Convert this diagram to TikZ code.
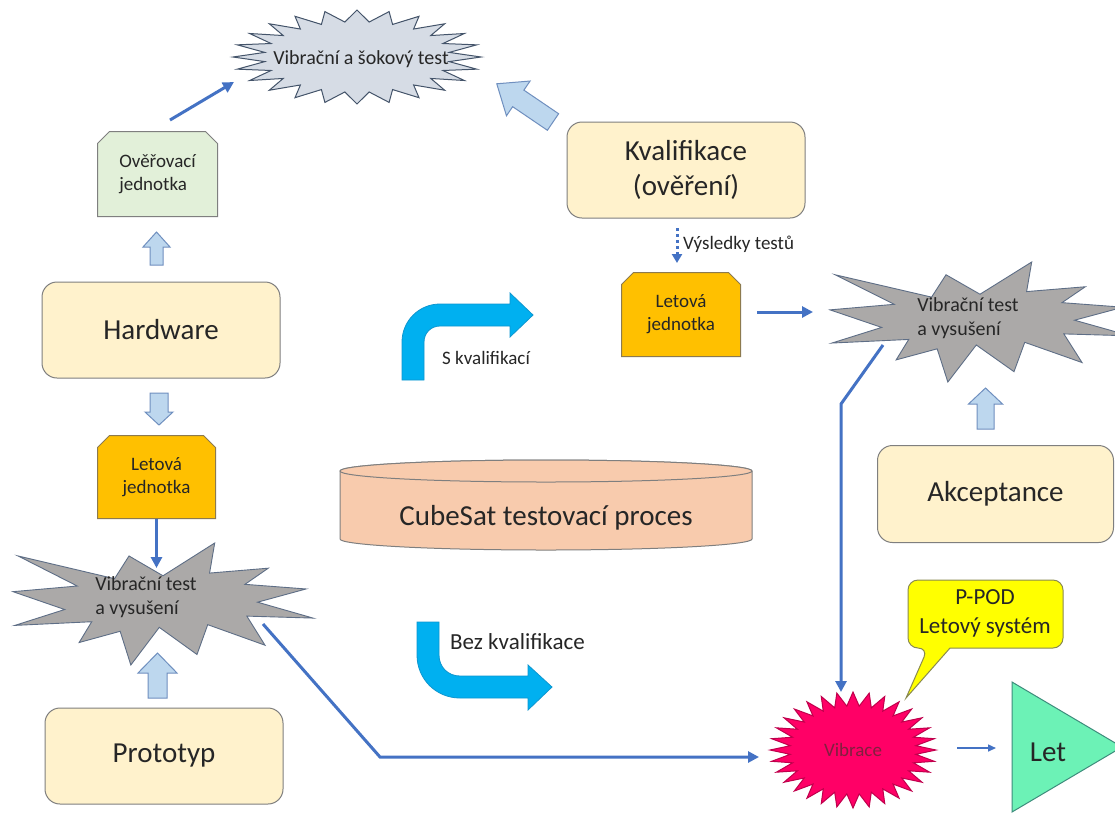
\documentclass[tikz,border=0pt]{standalone}
\usepackage{fontspec}
\setmainfont{Carlito}
\usetikzlibrary{arrows.meta}

\definecolor{boxfill}{HTML}{FFF2CC}
\definecolor{boxline}{HTML}{7F7F7F}
\definecolor{txt}{HTML}{262626}
\definecolor{verfill}{HTML}{E2F0D9}
\definecolor{flightfill}{HTML}{FFC000}
\definecolor{flightline}{HTML}{8C7A4F}
\definecolor{shockfill}{HTML}{D6DCE5}
\definecolor{shockline}{HTML}{44546A}
\definecolor{vibfill}{HTML}{ABA9A8}
\definecolor{vibline}{HTML}{5E6E86}
\definecolor{hollowfill}{HTML}{BDD7EE}
\definecolor{hollowline}{HTML}{6F8FBF}
\definecolor{flow}{HTML}{4472C4}
\definecolor{bentfill}{HTML}{00B0F0}
\definecolor{bentline}{HTML}{0E96CF}
\definecolor{cylfill}{HTML}{F8CBAD}
\definecolor{calloutfill}{HTML}{FFFF00}
\definecolor{calloutline}{HTML}{8A8A50}
\definecolor{pinkfill}{HTML}{FF0066}
\definecolor{pinkline}{HTML}{C0004C}
\definecolor{pinktext}{HTML}{80203F}
\definecolor{letfill}{HTML}{6CF2B6}
\definecolor{letline}{HTML}{3E8C7C}

\makeatletter
% rectangle with its two upper corners cut off
\def\snipsize{12pt}
\pgfdeclareshape{snipped rectangle}{%
  \inheritsavedanchors[from=rectangle]
  \inheritanchorborder[from=rectangle]
  \inheritanchor[from=rectangle]{center}
  \inheritanchor[from=rectangle]{north}
  \inheritanchor[from=rectangle]{south}
  \inheritanchor[from=rectangle]{east}
  \inheritanchor[from=rectangle]{west}
  \inheritanchor[from=rectangle]{north east}
  \inheritanchor[from=rectangle]{north west}
  \inheritanchor[from=rectangle]{south east}
  \inheritanchor[from=rectangle]{south west}
  \inheritanchor[from=rectangle]{base}
  \inheritanchor[from=rectangle]{mid}
  \backgroundpath{%
    \southwest \edef\sn@l{\the\pgf@x}\edef\sn@b{\the\pgf@y}%
    \northeast \edef\sn@r{\the\pgf@x}\edef\sn@t{\the\pgf@y}%
    \pgfpathmoveto{\pgfqpoint{\sn@l}{\sn@b}}%
    \pgfpathlineto{\pgfpointadd{\pgfqpoint{\sn@l}{\sn@t}}{\pgfqpoint{0pt}{-\snipsize}}}%
    \pgfpathlineto{\pgfpointadd{\pgfqpoint{\sn@l}{\sn@t}}{\pgfqpoint{\snipsize}{0pt}}}%
    \pgfpathlineto{\pgfpointadd{\pgfqpoint{\sn@r}{\sn@t}}{\pgfqpoint{-\snipsize}{0pt}}}%
    \pgfpathlineto{\pgfpointadd{\pgfqpoint{\sn@r}{\sn@t}}{\pgfqpoint{0pt}{-\snipsize}}}%
    \pgfpathlineto{\pgfqpoint{\sn@r}{\sn@b}}%
    \pgfpathclose
  }%
}
\makeatother

% regular seal on an ellipse: style, cx, cy, rx, ry, spikes, 2*spikes-1, inner ratio
\newcommand\sealstar[8]{%
  \draw[#1] ({#2},{#3-#5}) \foreach \k in {1,...,#7} { -- ({#2+(isodd(\k)?#8:1)*#4*cos(-90+\k*180/#6)},{#3+(isodd(\k)?#8:1)*#5*sin(-90+\k*180/#6)}) } -- cycle;}

% irregular explosion: style, left, top, width, height
\newcommand\explosion[5]{%
  \begin{scope}[shift={(#2,#3)},xscale=#4/100,yscale=#5/100]
    \draw[#1] (50,26.85) -- (67.23,0) -- (65.53,24.65) -- (85.09,20.63)
      -- (77.32,33.87) -- (97.67,37.67) -- (81.51,48.50) -- (100,61.53)
      -- (77.95,59.92) -- (84.00,83.77) -- (64.91,66.93) -- (61.33,91.38)
      -- (48.76,69.14) -- (39.28,100) -- (35.72,72.35) -- (22.05,81.56)
      -- (26.24,64.52) -- (0.63,67.53) -- (17.23,54.51) -- (0,39.88)
      -- (21.42,35.26) -- (1.71,10.63) -- (33.85,29.26) -- (38.67,10.63)
      -- cycle;
  \end{scope}}

% block arrow: style, tail point, angle, length, body half width, head half width, head length
\newcommand\blockarrow[7]{%
  \begin{scope}[shift={#2},rotate=#3]
    \draw[#1] (0,-#5) -- ({#4-#7},-#5) -- ({#4-#7},-#6) -- (#4,0)
      -- ({#4-#7},#6) -- ({#4-#7},#5) -- (0,#5) -- cycle;
  \end{scope}}

\begin{document}
\begin{tikzpicture}[x=1pt,y=-1pt,
  stage/.style={draw=boxline,line width=1pt,fill=boxfill,rounded corners=15pt,
    text=txt,font=\fontsize{29}{35}\selectfont,align=center,inner sep=0pt,
    minimum width=238pt,minimum height=96pt},
  unit/.style={shape=snipped rectangle,draw=boxline,line width=1pt,text=txt,
    font=\fontsize{19}{23}\selectfont,inner sep=0pt,
    minimum width=118pt,minimum height=83pt},
  lbl/.style={text=txt,inner sep=0pt,font=\fontsize{19}{23}\selectfont},
  startext/.style={text=txt,inner sep=0pt,font=\fontsize{20}{24}\selectfont,align=left},
  flowline/.style={draw=flow,line width=3pt,-{Triangle[length=11pt,width=11pt]}},
  hollow/.style={draw=hollowline,line width=1pt,fill=hollowfill},
  bent/.style={draw=bentline,line width=0.8pt,fill=bentfill},
  shockstar/.style={draw=shockline,line width=1pt,fill=shockfill},
  vibstar/.style={draw=vibline,line width=0.9pt,fill=vibfill},
  pinkstar/.style={draw=pinkline,line width=1pt,fill=pinkfill},
  cyl/.style={draw=boxline,line width=1pt,fill=cylfill},
  callout/.style={draw=calloutline,line width=1pt,fill=calloutfill},
  letshape/.style={draw=letline,line width=1pt,fill=letfill},
]
\useasboundingbox (0,0) rectangle (1115,812);
\fill[white] (0,0) rectangle (1115,812);
\clip (0,0) rectangle (1115,812);

% ---------- stages ----------
\node[stage] (hw) at (161,330) {Hardware};
\node[stage] (proto) at (164,756) {Prototyp};
\node[stage] (kval) at (686,170) {Kvalifikace\\(ověření)};
\node[stage,minimum width=236pt,minimum height=97pt] (acc) at (995.5,494) {Akceptance};

% ---------- units ----------
\node[unit,fill=verfill,align=left,minimum width=119pt,minimum height=84pt] (ver) at (157.5,174) {Ověřovací\\jednotka};
\node[unit,fill=flightfill,draw=flightline,align=center,minimum width=117pt,minimum height=82pt] (flL) at (156.5,477) {Letová\\jednotka};
\node[unit,fill=flightfill,draw=flightline,align=center] (flR) at (681,314.5) {Letová\\jednotka};

% ---------- test stars ----------
\sealstar{shockstar}{357}{57}{124}{47}{24}{47}{0.75}
\node[startext] (shock) at (361,59) {Vibrační a šokový test};

\explosion{vibstar}{13}{543}{300}{122}
\node[startext] (vibL) at (146,597) {Vibrační test\\a vysušení};

\explosion{vibstar}{830}{262}{300}{120}
\node[startext] (vibR) at (968,318) {Vibrační test\\a vysušení};

\sealstar{pinkstar}{853}{750}{83}{58}{32}{63}{0.76}
\node[lbl,text=pinktext] (vib) at (853,750) {Vibrace};

% ---------- process cylinder ----------
\draw[cyl] (340,471) -- (340,539) arc[start angle=180,end angle=360,x radius=206pt,y radius=11pt]
  -- (752,471) arc[start angle=0,end angle=180,x radius=206pt,y radius=11pt] -- cycle;
\draw[cyl] (546,471) ellipse[x radius=206pt,y radius=11pt];
\node[text=txt,inner sep=0pt,font=\fontsize{29}{35}\selectfont] (proc) at (546,518) {CubeSat testovací proces};

% ---------- callout and flight ----------
\draw[callout] (928,648) -- (906,698) -- (950,648) [rounded corners=10pt] -- (1063,648)
  -- (1063,580) -- (908,580) -- (908,648) -- cycle;
\node[lbl,font=\fontsize{23}{29}\selectfont,align=center] (ppod) at (985,613) {P-POD\\Letový systém};

\draw[letshape] (1012,682) -- (1122,747) -- (1012,812) -- cycle;
\node[lbl,font=\fontsize{29}{35}\selectfont] (let) at (1048,752) {Let};

% ---------- bent route arrows ----------
\filldraw[bent] (402,380) -- (402,342) .. controls (402,321) and (419,304) .. (440,304)
  -- (510,304) -- (510,293) -- (533,315) -- (510,337) -- (510,326) -- (440,326)
  .. controls (431,326) and (424,333) .. (424,342) -- (424,380) -- cycle;
\node[lbl,anchor=west] (withq) at (442,358) {S kvalifikací};

\filldraw[bent] (417,622) -- (417,655) .. controls (417,679) and (436,698) .. (460,698)
  -- (528,698) -- (528,710) -- (552,687) -- (528,665) -- (528,676) -- (460,676)
  .. controls (448,676) and (439,667) .. (439,655) -- (439,622) -- cycle;
\node[lbl,font=\fontsize{23}{28}\selectfont,anchor=west] (noq) at (450,642) {Bez kvalifikace};

% ---------- hollow block arrows ----------
\blockarrow{hollow}{(156.5,265)}{90}{33}{6.5}{13.5}{15}
\blockarrow{hollow}{(159,393)}{-90}{32}{9}{14}{13}
\blockarrow{hollow}{(157.5,698)}{90}{45}{9.5}{19.5}{20}
\blockarrow{hollow}{(985.5,429)}{90}{41}{8.5}{17}{16}
\blockarrow{hollow}{(553,122)}{145.8}{68}{10}{21}{26}

% ---------- flow connectors ----------
\coordinate (verOut) at (170,120);
\coordinate (shockIn) at (234,82);
\draw[flowline] (verOut) -- (shockIn);

\coordinate (vibLin) at (156.5,568);
\draw[flowline] (flL.south) -- (vibLin);

\coordinate (vibLout) at (263,624);
\coordinate (lowBend) at (380,757);
\coordinate (pinkW) at (759,757);
\draw[flowline] (vibLout) -- (lowBend) -- (pinkW);

\coordinate (flROut) at (757,312);
\coordinate (vibRin) at (813,312);
\draw[flowline] (flROut) -- (vibRin);

\coordinate (vibRout) at (883,345);
\coordinate (rightBend) at (841,404);
\coordinate (pinkN) at (841,692);
\draw[flowline] (vibRout) -- (rightBend) -- (pinkN);

\coordinate (resStart) at (677,228);
\coordinate (resEnd) at (677,263);
\draw[flowline,dash pattern=on 3pt off 3pt,-{Triangle[length=9pt,width=10pt]}] (resStart) -- (resEnd);
\node[lbl,anchor=west] (results) at (683,244) {Výsledky testů};

\coordinate (pinkE) at (957,748);
\coordinate (letW) at (996,748);
\draw[draw=flow,line width=1.5pt,-{Triangle[length=8pt,width=7pt]}] (pinkE) -- (letW);
\end{tikzpicture}
\end{document}
